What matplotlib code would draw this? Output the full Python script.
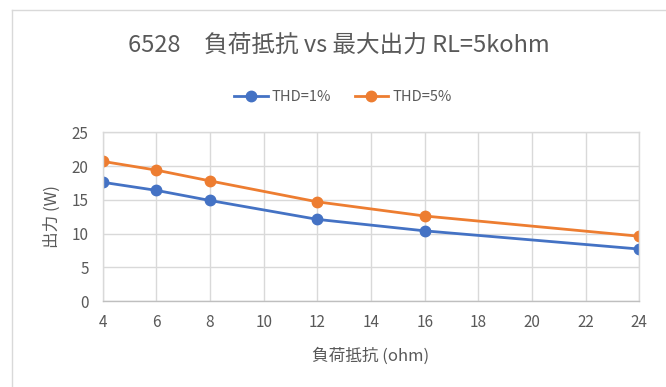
import matplotlib
matplotlib.use("Agg")
import matplotlib.pyplot as plt
from matplotlib.lines import Line2D

plt.rcParams['font.family'] = ['Noto Sans CJK JP', 'DejaVu Sans']

# data
load_ohm = [4, 6, 8, 12, 16, 24]
thd1_w = [17.6, 16.4, 14.9, 12.1, 10.4, 7.7]
thd5_w = [20.7, 19.4, 17.8, 14.7, 12.6, 9.6]
series_names = ['THD=1%', 'THD=5%']
x_ticks = [4, 6, 8, 10, 12, 14, 16, 18, 20, 22, 24]
y_ticks = [0, 5, 10, 15, 20, 25]

blue = '#4472C4'
orange = '#ED7D31'
text_gray = '#595959'
grid_gray = '#D9D9D9'

fig = plt.figure(figsize=(6.66, 3.87), dpi=100)
ax = fig.add_axes([0.1542, 0.2222, 0.8058, 0.4358])

ax.plot(load_ohm, thd1_w, color=blue, lw=2, marker='o', ms=7.5, label=series_names[0])
ax.plot(load_ohm, thd5_w, color=orange, lw=2, marker='o', ms=7.5, label=series_names[1])

ax.set_xlim(4, 24)
ax.set_ylim(0, 25)
ax.set_xticks(x_ticks)
ax.set_yticks(y_ticks)
ax.grid(True, color=grid_gray, lw=1)
ax.set_axisbelow(True)
for s in ax.spines.values():
    s.set_color(grid_gray)
    s.set_linewidth(1)
ax.spines['bottom'].set_color('#BFBFBF')
ax.tick_params(length=0, labelsize=11, labelcolor=text_gray)
ax.tick_params(axis='x', pad=9)
ax.tick_params(axis='y', pad=10)

ax.set_xlabel('負荷抵抗 (ohm)', fontsize=12, color=text_gray, labelpad=12)
ax.set_ylabel('出力 (W)', fontsize=12, color=text_gray, labelpad=8)

fig.text(0.509, 0.881, '6528\u3000負荷抵抗 vs 最大出力 RL=5kohm',
         ha='center', va='center', fontsize=17, color=text_gray)

fig.legend(loc='center', bbox_to_anchor=(0.515, 0.749), ncol=2, frameon=False,
           fontsize=10.5, handlelength=2.3, columnspacing=1.6, handletextpad=0.3,
           labelcolor=text_gray)

# outer chart border (top and left visible)
fig.add_artist(Line2D([12 / 666, 1.0], [1 - 9.5 / 387, 1 - 9.5 / 387],
                      transform=fig.transFigure, color=grid_gray, lw=1))
fig.add_artist(Line2D([12 / 666, 12 / 666], [0.0, 1 - 9.5 / 387],
                      transform=fig.transFigure, color=grid_gray, lw=1))

fig.savefig('out.png', dpi=100)
